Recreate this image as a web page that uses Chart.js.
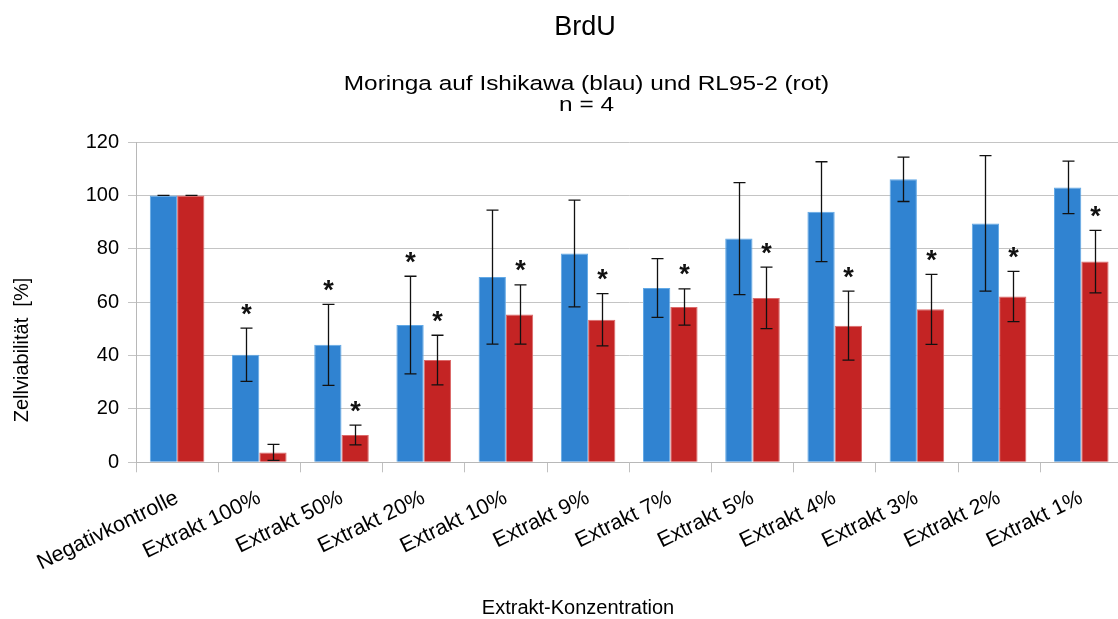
<!DOCTYPE html>
<html>
<head>
<meta charset="utf-8">
<title>BrdU</title>
<script src="https://cdn.jsdelivr.net/npm/chart.js@4.4.1/dist/chart.umd.min.js"></script>
<style>
  html, body { margin: 0; padding: 0; background: #fff; overflow: hidden; }
  #wrap { width: 1124px; height: 619px; }
</style>
</head>
<body>
<div id="wrap"><canvas id="c"></canvas></div>
<script>
// Extract concentrations on the x axis
const categories = ['Negativkontrolle', 'Extrakt 100%', 'Extrakt 50%', 'Extrakt 20%', 'Extrakt 10%',
  'Extrakt 9%', 'Extrakt 7%', 'Extrakt 5%', 'Extrakt 4%', 'Extrakt 3%', 'Extrakt 2%', 'Extrakt 1%'];

// Ishikawa (blue): mean viability [%] and standard deviation
const ishikawa   = [100, 40.3, 44.0, 51.4, 69.4, 78.2, 65.3, 83.8, 93.9, 106.0, 89.5, 103.0];
const ishikawaSD = [0, 10.0, 15.2, 18.3, 25.1, 20.0, 11.0, 21.0, 18.7, 8.3, 25.4, 9.8];
const ishikawaSig = [false, true, true, true, false, false, false, false, false, false, false, false];

// RL95-2 (red): mean viability [%] and standard deviation
const rl952   = [100, 3.7, 10.2, 38.3, 55.4, 53.4, 58.2, 61.6, 51.2, 57.3, 62.1, 75.2];
const rl952SD = [0, 3.0, 3.7, 9.3, 11.1, 9.8, 6.8, 11.5, 12.9, 13.1, 9.4, 11.7];
const rl952Sig = [false, false, true, true, true, true, true, true, true, true, true, true];

// y axis ticks
const yTicks = [0, 20, 40, 60, 80, 100, 120];

// Subtitle lines
const subtitleLines = ['Moringa auf Ishikawa (blau) und RL95-2 (rot)', 'n = 4'];

const FONT = "'Liberation Sans', Arial, Helvetica, sans-serif";

// Draws the SD whiskers and the significance stars on top of each bar
const errorBars = {
  id: 'errorBars',
  afterDatasetsDraw(chart) {
    const ctx = chart.ctx;
    const yScale = chart.scales.y;
    chart.data.datasets.forEach((ds, di) => {
      const meta = chart.getDatasetMeta(di);
      meta.data.forEach((bar, i) => {
        const v = ds.data[i];
        const e = ds.errors[i];
        const yTop = yScale.getPixelForValue(v + e);
        const yBot = yScale.getPixelForValue(v - e);
        const x = Math.round(bar.x) + 0.5;
        ctx.save();
        ctx.strokeStyle = '#111';
        ctx.lineWidth = 1.3;
        ctx.beginPath();
        ctx.moveTo(x, yTop); ctx.lineTo(x, yBot);
        ctx.moveTo(x - 6, yTop); ctx.lineTo(x + 6, yTop);
        ctx.moveTo(x - 6, yBot); ctx.lineTo(x + 6, yBot);
        ctx.stroke();
        if (ds.sig[i]) {
          ctx.fillStyle = '#111';
          ctx.font = 'bold 27px ' + FONT;
          ctx.textAlign = 'center';
          ctx.textBaseline = 'alphabetic';
          const m = ctx.measureText('*');
          const mid = (m.actualBoundingBoxAscent - m.actualBoundingBoxDescent) / 2;
          ctx.fillText('*', x, yTop - 19 + mid);
        }
        ctx.restore();
      });
    });
  }
};

// Subtitle (wide lettering) and axis titles
const chartTexts = {
  id: 'chartTexts',
  afterDraw(chart) {
    const ctx = chart.ctx;
    ctx.save();
    ctx.fillStyle = '#000';
    ctx.textAlign = 'center';

    // subtitle, horizontally widened
    ctx.font = '20.5px ' + FONT;
    ctx.textBaseline = 'alphabetic';
    const cx = 586.5;
    subtitleLines.forEach((line, i) => {
      ctx.save();
      ctx.translate(cx, 89.5 + i * 21.5);
      ctx.scale(1.19, 1);
      ctx.fillText(line, 0, 0);
      ctx.restore();
    });

    ctx.font = '20px ' + FONT;
    ctx.textBaseline = 'middle';
    ctx.fillText('Extrakt-Konzentration', 578, 608);
    ctx.translate(22, 350);
    ctx.rotate(-Math.PI / 2);
    ctx.fillText('Zellviabilität  [%]', 0, 0);
    ctx.restore();
  }
};

new Chart(document.getElementById('c'), {
  type: 'bar',
  data: {
    labels: categories,
    datasets: [
      {
        label: 'Ishikawa',
        data: ishikawa,
        errors: ishikawaSD,
        sig: ishikawaSig,
        backgroundColor: '#3083d1',
        borderColor: '#62a9e6',
        borderWidth: 1
      },
      {
        label: 'RL95-2',
        data: rl952,
        errors: rl952SD,
        sig: rl952Sig,
        backgroundColor: '#c42424',
        borderColor: '#dc6a6a',
        borderWidth: 1
      }
    ]
  },
  options: {
    responsive: true,
    maintainAspectRatio: false,
    animation: false,
    layout: { padding: { left: 47.6, right: 1.6, top: 0, bottom: 0 } },
    datasets: { bar: { categoryPercentage: 0.664, barPercentage: 1.0 } },
    plugins: {
      legend: { display: false },
      tooltip: { enabled: false },
      title: {
        display: true,
        text: 'BrdU',
        color: '#000',
        font: { family: FONT, size: 27, weight: 'normal', lineHeight: 1.2 },
        padding: { top: 11, bottom: 98.6 }
      },
      subtitle: { display: false }
    },
    scales: {
      x: {
        offset: true,
        grid: { display: true, drawOnChartArea: false, drawTicks: true, tickLength: 10, color: '#c0c0c0', offset: true },
        border: { color: '#b8b8b8' },
        ticks: { color: '#000', font: { family: FONT, size: 21.5 }, maxRotation: 26, minRotation: 26, padding: 13, autoSkip: false },
        afterFit(scale) { scale.height = 156.7; }
      },
      y: {
        min: 0,
        max: 120,
        afterBuildTicks(scale) { scale.ticks = yTicks.map(v => ({ value: v })); },
        grid: { color: '#c4c4c4', tickLength: 8, drawTicks: true },
        border: { color: '#b8b8b8' },
        ticks: { color: '#000', font: { family: FONT, size: 20 }, padding: 9 },
        afterFit(scale) { scale.width = 88.4; }
      }
    }
  },
  plugins: [errorBars, chartTexts]
});
</script>
</body>
</html>
